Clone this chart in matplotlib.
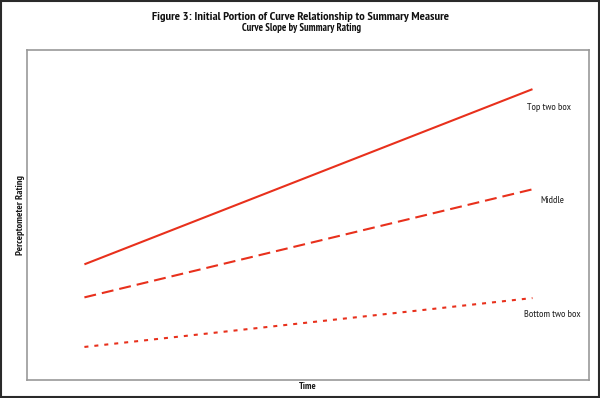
import matplotlib
matplotlib.use("Agg")
import matplotlib.pyplot as plt
from matplotlib.patches import Rectangle

plt.rcParams['lines.scale_dashes'] = False

# Data
time_points = [0, 1]
series_names = ["Top two box", "Middle", "Bottom two box"]
top_values = [35.0, 88.0]
middle_values = [25.0, 57.7]
bottom_values = [10.0, 24.8]
label_y = [82.5, 54.4, 19.9]

title = "Figure 3: Initial Portion of Curve Relationship to Summary Measure"
subtitle = "Curve Slope by Summary Rating"
xlabel = "Time"
ylabel = "Perceptometer Rating"

red = "#e8301c"
fam = ["PT Sans Narrow", "DejaVu Sans"]

fig = plt.figure(figsize=(6, 3.98), dpi=100)
fig.patches.append(Rectangle((0.0015, 0.0025), 0.996, 0.995, transform=fig.transFigure,
                             fill=False, edgecolor="#2a2a2a", linewidth=1.5))

W, H = 600, 398
l, r, t, b = 27.5, 588.5, 49.5, 380
ax = fig.add_axes([l / W, 1 - b / H, (r - l) / W, (b - t) / H])

styles = [dict(linestyle="-"),
          dict(linestyle=(0, (8.6, 4.3))),
          dict(linestyle=(0, (2.9, 4.3)))]
for vals, st in zip([top_values, middle_values, bottom_values], styles):
    ax.plot(time_points, vals, color=red, linewidth=1.5, solid_capstyle="butt",
            dash_capstyle="butt", **st)

renderer = fig.canvas.get_renderer()


def fit(txt, target_px, vertical=False):
    bb = txt.get_window_extent(renderer)
    cur = bb.height if vertical else bb.width
    txt.set_fontsize(txt.get_fontsize() * target_px / cur)


label_x = [1.036, 1.045, 1.045]
label_w = [45, 24, 57]
for name, xv, yv, w in zip(series_names, label_x, label_y, label_w):
    tx = ax.text(xv, yv, name, ha="center", va="center", fontsize=7, color="#1e1e1e",
                 family=fam)
    fit(tx, w)

xl = ax.set_xlabel(xlabel, fontsize=7, fontweight="bold", family=fam, labelpad=1.5, color="#1a1a1a")
fit(xl, 18)
yl = ax.set_ylabel(ylabel, fontsize=7, fontweight="bold", family=fam, labelpad=2, color="#1a1a1a")
fit(yl, 81, vertical=True)

ax.set_xlim(-0.127, 1.125)
ax.set_ylim(0, 100)
ax.set_xticks([])
ax.set_yticks([])
for s in ax.spines.values():
    s.set_color("#999999")
    s.set_linewidth(1.2)

t1 = fig.text(0.5, 1 - 17 / H, title, ha="center", va="center", fontsize=9, fontweight="bold",
              family=fam, color="#111111")
fit(t1, 296)
t2 = fig.text(0.502, 1 - 28 / H, subtitle, ha="center", va="center", fontsize=7,
              fontweight="bold", family=fam, color="#111111")
fit(t2, 120)

fig.savefig("out.png", dpi=100)
